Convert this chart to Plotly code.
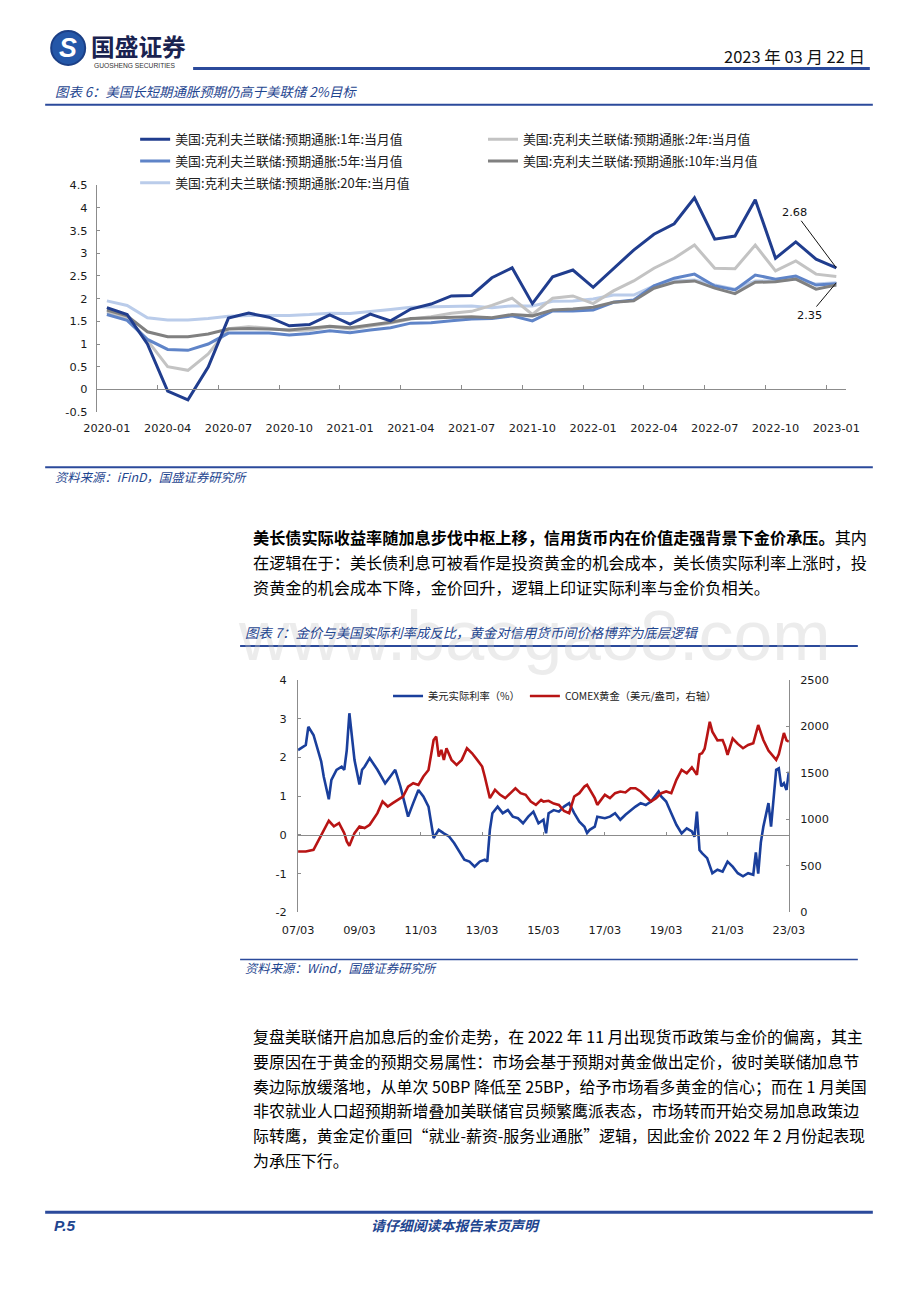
import plotly.graph_objects as go

W, H = 920, 1302          # page size of the reference
BODY = 8                  # default body margin of the generated page
FW, FH = W - 2 * BODY, H - 2 * BODY   # figure size so the page fits the window exactly
# measured photo scaling of the page about its centre (compensated below)
SX, SY = 0.965, 0.9906
FS = 1.03                 # font compensation for that scaling

# ---------------- Chart 6 data (monthly, Cleveland Fed expected inflation) ----------------
months = ["2020-01", "2020-02", "2020-03", "2020-04", "2020-05", "2020-06", "2020-07", "2020-08",
          "2020-09", "2020-10", "2020-11", "2020-12", "2021-01", "2021-02", "2021-03", "2021-04",
          "2021-05", "2021-06", "2021-07", "2021-08", "2021-09", "2021-10", "2021-11", "2021-12",
          "2022-01", "2022-02", "2022-03", "2022-04", "2022-05", "2022-06", "2022-07", "2022-08",
          "2022-09", "2022-10", "2022-11", "2022-12", "2023-01"]
inf_1y = [1.80, 1.65, 1.00, -0.04, -0.23, 0.49, 1.57, 1.68, 1.59, 1.40, 1.43, 1.64, 1.44, 1.66, 1.51,
          1.77, 1.88, 2.06, 2.07, 2.46, 2.68, 1.89, 2.48, 2.63, 2.25, 2.65, 3.07, 3.42, 3.65, 4.22,
          3.31, 3.38, 4.18, 2.89, 3.25, 2.87, 2.68]
inf_2y = [1.70, 1.58, 1.08, 0.50, 0.42, 0.78, 1.34, 1.38, 1.35, 1.29, 1.31, 1.38, 1.33, 1.39, 1.46,
          1.55, 1.60, 1.68, 1.72, 1.85, 2.01, 1.65, 2.01, 2.06, 1.89, 2.17, 2.39, 2.67, 2.89, 3.18,
          2.67, 2.66, 3.18, 2.61, 2.83, 2.54, 2.49]
inf_5y = [1.65, 1.52, 1.10, 0.88, 0.86, 1.00, 1.24, 1.24, 1.24, 1.20, 1.23, 1.29, 1.25, 1.31, 1.36,
          1.46, 1.47, 1.51, 1.55, 1.56, 1.62, 1.51, 1.73, 1.73, 1.75, 1.92, 1.97, 2.28, 2.45, 2.54,
          2.28, 2.19, 2.52, 2.43, 2.50, 2.30, 2.33]
inf_10y = [1.75, 1.62, 1.27, 1.16, 1.16, 1.22, 1.33, 1.34, 1.33, 1.31, 1.35, 1.39, 1.36, 1.42, 1.48,
           1.56, 1.57, 1.58, 1.60, 1.58, 1.65, 1.62, 1.75, 1.77, 1.81, 1.92, 1.95, 2.23, 2.36, 2.39,
           2.23, 2.11, 2.36, 2.37, 2.43, 2.21, 2.30]
inf_20y = [1.95, 1.85, 1.58, 1.53, 1.53, 1.56, 1.61, 1.63, 1.63, 1.63, 1.65, 1.68, 1.67, 1.71, 1.76,
           1.81, 1.82, 1.82, 1.84, 1.80, 1.84, 1.84, 1.94, 1.95, 1.99, 2.08, 2.08, 2.28, 2.39, 2.41,
           2.30, 2.21, 2.39, 2.39, 2.43, 2.32, 2.35]
series_names = ["美国:克利夫兰联储:预期通胀:1年:当月值", "美国:克利夫兰联储:预期通胀:2年:当月值",
                "美国:克利夫兰联储:预期通胀:5年:当月值", "美国:克利夫兰联储:预期通胀:10年:当月值",
                "美国:克利夫兰联储:预期通胀:20年:当月值"]
y1_ticks = [-0.5, 0, 0.5, 1, 1.5, 2, 2.5, 3, 3.5, 4, 4.5]
y1_labels = ["-0.5", "0", "0.5", "1", "1.5", "2", "2.5", "3", "3.5", "4", "4.5"]

# ---------------- Chart 7 data ----------------
rr_dates = ["2007-03", "2007-06", "2007-07", "2007-09", "2007-12", "2008-01", "2008-03", "2008-04",
            "2008-06", "2008-08", "2008-09", "2008-10", "2008-11", "2008-12", "2009-01", "2009-03",
            "2009-04", "2009-05", "2009-07", "2009-10", "2010-01", "2010-03", "2010-05", "2010-07",
            "2010-10", "2010-12", "2011-02", "2011-04", "2011-06", "2011-08", "2011-10", "2011-12",
            "2012-02", "2012-04", "2012-06", "2012-08", "2012-10", "2012-12", "2013-02", "2013-04",
            "2013-05", "2013-06", "2013-07", "2013-09", "2013-11", "2014-01", "2014-03", "2014-05",
            "2014-07", "2014-09", "2014-11", "2015-01", "2015-03", "2015-04", "2015-05", "2015-07",
            "2015-09", "2015-11", "2016-01", "2016-03", "2016-05", "2016-07", "2016-08", "2016-09",
            "2016-11", "2016-12", "2017-03", "2017-05", "2017-07", "2017-09", "2017-11", "2018-01",
            "2018-03", "2018-05", "2018-07", "2018-09", "2018-11", "2018-12", "2019-01", "2019-03",
            "2019-05", "2019-07", "2019-09", "2019-11", "2020-01", "2020-02", "2020-03", "2020-04",
            "2020-05", "2020-07", "2020-09", "2020-11", "2021-01", "2021-03", "2021-05", "2021-07",
            "2021-09", "2021-11", "2022-01", "2022-02", "2022-03", "2022-04", "2022-05", "2022-06",
            "2022-07", "2022-08", "2022-09", "2022-10", "2022-11", "2022-12", "2023-01", "2023-02",
            "2023-03"]
rr_vals = [2.19, 2.32, 2.79, 2.58, 1.90, 1.50, 0.92, 1.42, 1.68, 1.76, 1.68, 2.19, 3.14, 2.54, 1.93,
           1.30, 1.68, 1.76, 1.98, 1.68, 1.33, 1.50, 1.68, 1.25, 0.47, 0.82, 1.16, 0.99, 0.73, -0.08,
           0.13, 0.04, -0.04, -0.21, -0.43, -0.64, -0.69, -0.82, -0.69, -0.64, -0.69, 0.13, 0.56,
           0.73, 0.56, 0.64, 0.47, 0.43, 0.30, 0.47, 0.60, 0.30, 0.39, 0.04, 0.56, 0.64, 0.60, 0.73,
           0.82, 0.56, 0.34, 0.21, 0.05, 0.13, 0.21, 0.47, 0.43, 0.47, 0.56, 0.39, 0.52, 0.64, 0.73,
           0.82, 0.77, 0.86, 1.03, 1.12, 0.99, 0.86, 0.56, 0.26, 0.04, 0.17, 0.09, -0.05, 0.60, -0.39,
           -0.47, -0.60, -0.99, -0.90, -0.95, -0.69, -0.82, -0.99, -1.07, -0.99, -1.03, -0.45, -1.00,
           -0.20, 0.21, 0.56, 0.82, 0.21, 0.99, 1.68, 1.72, 1.25, 1.33, 1.16, 1.63]
gold_dates = ["2007-03", "2007-06", "2007-09", "2007-11", "2008-01", "2008-03", "2008-05", "2008-07",
              "2008-09", "2008-10", "2008-11", "2009-01", "2009-03", "2009-05", "2009-07", "2009-10",
              "2009-12", "2010-02", "2010-04", "2010-06", "2010-08", "2010-10", "2010-12", "2011-02",
              "2011-04", "2011-06", "2011-08", "2011-09", "2011-10", "2011-11", "2011-12", "2012-01",
              "2012-03", "2012-05", "2012-07", "2012-09", "2012-11", "2013-01", "2013-03", "2013-04",
              "2013-05", "2013-06", "2013-08", "2013-10", "2013-12", "2014-02", "2014-04", "2014-06",
              "2014-08", "2014-10", "2014-12", "2015-02", "2015-03", "2015-05", "2015-07", "2015-09",
              "2015-11", "2016-01", "2016-03", "2016-05", "2016-07", "2016-08", "2016-09", "2016-11",
              "2016-12", "2017-01", "2017-03", "2017-05", "2017-07", "2017-09", "2017-11", "2018-01",
              "2018-03", "2018-05", "2018-07", "2018-09", "2018-11", "2019-01", "2019-03", "2019-05",
              "2019-07", "2019-09", "2019-11", "2020-01", "2020-03", "2020-04", "2020-05", "2020-06",
              "2020-07", "2020-08", "2020-09", "2020-11", "2021-01", "2021-02", "2021-03", "2021-05",
              "2021-07", "2021-09", "2021-11", "2022-01", "2022-03", "2022-05", "2022-07", "2022-09",
              "2022-10", "2022-11", "2022-12", "2023-01", "2023-02", "2023-03"]
gold_vals = [655, 655, 673, 780, 888, 985, 924, 959, 852, 763, 715, 852, 924, 906, 942, 1067, 1192,
             1138, 1174, 1210, 1246, 1353, 1389, 1371, 1461, 1532, 1854, 1890, 1675, 1747, 1640, 1765,
             1640, 1586, 1640, 1765, 1711, 1640, 1568, 1461, 1353, 1228, 1317, 1264, 1228, 1282, 1335,
             1282, 1264, 1192, 1156, 1210, 1192, 1200, 1170, 1156, 1090, 1067, 1246, 1282, 1353, 1371,
             1317, 1228, 1156, 1192, 1264, 1228, 1282, 1300, 1290, 1335, 1335, 1300, 1246, 1192, 1228,
             1282, 1300, 1282, 1425, 1532, 1496, 1560, 1480, 1700, 1711, 1760, 1900, 2050, 1944, 1850,
             1854, 1783, 1693, 1870, 1812, 1765, 1800, 1819, 2015, 1854, 1740, 1670, 1640, 1700, 1801,
             1930, 1850, 1836]
rr_name = "美元实际利率（%）"
gold_name = "COMEX黄金（美元/盎司，右轴）"
y2_ticks = [-2, -1, 0, 1, 2, 3, 4]
y2_labels = ["-2", "-1", "0", "1", "2", "3", "4"]
y3_ticks = [0, 500, 1000, 1500, 2000, 2500]

# ---------------- Page text ----------------
para1 = ["<b>美长债实际收益率随加息步伐中枢上移，信用货币内在价值走强背景下金价承压。</b>其内",
         "在逻辑在于：美长债利息可被看作是投资黄金的机会成本，美长债实际利率上涨时，投",
         "资黄金的机会成本下降，金价回升，逻辑上印证实际利率与金价负相关。"]
para2 = ["复盘美联储开启加息后的金价走势，在 2022 年 11 月出现货币政策与金价的偏离，其主",
         "要原因在于黄金的预期交易属性：市场会基于预期对黄金做出定价，彼时美联储加息节",
         "奏边际放缓落地，从单次 50BP 降低至 25BP，给予市场看多黄金的信心；而在 1 月美国",
         "非农就业人口超预期新增叠加美联储官员频繁鹰派表态，市场转而开始交易加息政策边",
         "际转鹰，黄金定价重回“就业-薪资-服务业通胀”逻辑，因此金价 2022 年 2 月份起表现",
         "为承压下行。"]

# ---------------- helpers ----------------
CJK = "Noto Sans CJK SC"
NUM = "DejaVu Sans"
BLUE_T = "#1F4690"
RULE = "#2B4A9B"
AXC = "#8C8C8C"


def px(x):
    """target page pixel x -> paper fraction of the figure"""
    xa = W / 2 + (x - W / 2) / SX
    return (xa - BODY) / FW


def py(y):
    """target page pixel y (from top) -> paper fraction of the figure"""
    ya = H / 2 + (y - H / 2) / SY
    return 1 - (ya - BODY) / FH


def f(s):
    return round(s * FS, 2)


idx = list(range(len(months)))

x1_dom = [px(96.6), px(846.6)]
y1_dom = [py(411.7), py(184.5)]
x2_dom = [px(298), px(789)]
y2_dom = [py(912.7), py(680)]

y1_range = [-0.5, 4.5]
y2_range = [-2, 4]
zero1 = y1_dom[0] + (0 - y1_range[0]) / (y1_range[1] - y1_range[0]) * (y1_dom[1] - y1_dom[0])
zero2 = y2_dom[0] + (0 - y2_range[0]) / (y2_range[1] - y2_range[0]) * (y2_dom[1] - y2_dom[0])

fig = go.Figure()

styles = {
    0: dict(color="#203D8E", legend="legend", rank=1),
    1: dict(color="#C3C3C3", legend="legend2", rank=1),
    2: dict(color="#5F84C8", legend="legend", rank=2),
    3: dict(color="#808080", legend="legend2", rank=2),
    4: dict(color="#BACCEA", legend="legend", rank=3),
}
data_list = [inf_1y, inf_2y, inf_5y, inf_10y, inf_20y]
for k in [4, 1, 2, 3, 0]:
    s = styles[k]
    fig.add_trace(go.Scatter(
        x=idx, y=data_list[k], mode="lines", name=series_names[k],
        line=dict(color=s["color"], width=3), legend=s["legend"], legendrank=s["rank"],
        legendgroup="g%d" % k, xaxis="x", yaxis="y", hoverinfo="skip"))

# empty helper traces so the zero-line axes are drawn
fig.add_trace(go.Scatter(x=[], y=[], xaxis="x3", yaxis="y", showlegend=False, hoverinfo="skip"))

fig.add_trace(go.Scatter(x=rr_dates, y=rr_vals, mode="lines", name=rr_name,
                         line=dict(color="#1A3F9C", width=2.6), xaxis="x2", yaxis="y2",
                         legend="legend3", hoverinfo="skip"))
fig.add_trace(go.Scatter(x=gold_dates, y=gold_vals, mode="lines", name=gold_name,
                         line=dict(color="#B81414", width=2.6), xaxis="x2", yaxis="y3",
                         legend="legend3", hoverinfo="skip"))
fig.add_trace(go.Scatter(x=[], y=[], xaxis="x4", yaxis="y2", showlegend=False, hoverinfo="skip"))

tickfont = dict(family=NUM, size=f(11), color="#1a1a1a")

layout = dict(
    width=FW, height=FH, margin=dict(l=0, r=0, t=0, b=0), autosize=False,
    paper_bgcolor="white", plot_bgcolor="rgba(0,0,0,0)",
    showlegend=True,
    xaxis=dict(domain=x1_dom, anchor="y", range=[-0.5, len(months) - 0.5],
               tickmode="array", tickvals=idx[::3], ticktext=months[::3],
               ticks="", showline=False, showgrid=False, zeroline=False,
               tickfont=tickfont, ticklabelstandoff=8),
    yaxis=dict(domain=y1_dom, anchor="x", range=y1_range, tickmode="array",
               tickvals=y1_ticks, ticktext=y1_labels, showline=True, linecolor=AXC,
               linewidth=1, ticks="inside", ticklen=3, tickcolor=AXC, showgrid=False,
               zeroline=False, tickfont=tickfont, ticklabelstandoff=6),
    xaxis3=dict(overlaying="x", anchor="free", position=zero1, range=[-0.5, len(months) - 0.5],
                tickmode="array", tickvals=[v - 0.5 for v in idx[3::3]],
                showticklabels=False, ticks="inside", ticklen=4, tickcolor=AXC,
                showline=True, linecolor=AXC, linewidth=1, showgrid=False, zeroline=False),
    xaxis2=dict(domain=x2_dom, anchor="y2", type="date", range=["2007-03-01", "2023-03-01"],
                tick0="2007-03-01", dtick="M24", tickformat="%y/%m", ticks="",
                showline=False, showgrid=False, zeroline=False, tickfont=tickfont,
                ticklabelstandoff=9),
    xaxis4=dict(overlaying="x2", anchor="free", position=zero2, type="date",
                range=["2007-03-01", "2023-03-01"], tick0="2007-03-01", dtick="M24",
                showticklabels=False, ticks="inside", ticklen=3, tickcolor=AXC,
                showline=True, linecolor=AXC, linewidth=1, showgrid=False, zeroline=False),
    yaxis2=dict(domain=y2_dom, anchor="x2", range=y2_range, tickmode="array",
                tickvals=y2_ticks, ticktext=y2_labels, showline=True, linecolor=AXC,
                ticks="inside", ticklen=3, tickcolor=AXC, showgrid=False, zeroline=False,
                tickfont=tickfont, ticklabelstandoff=8),
    yaxis3=dict(overlaying="y2", anchor="x2", side="right", range=[0, 2500], tickmode="array",
                tickvals=y3_ticks, showline=True, linecolor=AXC, ticks="inside", ticklen=3,
                tickcolor=AXC, showgrid=False, zeroline=False, tickfont=tickfont,
                ticklabelstandoff=8),
    legend=dict(x=px(135), y=py(123.5), xanchor="left", yanchor="top", orientation="v",
                bgcolor="rgba(0,0,0,0)", font=dict(family=CJK, size=f(12.5), color="#222"),
                tracegroupgap=2, itemwidth=30),
    legend2=dict(x=px(483), y=py(123.5), xanchor="left", yanchor="top", orientation="v",
                 bgcolor="rgba(0,0,0,0)", font=dict(family=CJK, size=f(12.5), color="#222"),
                 tracegroupgap=2, itemwidth=30),
    legend3=dict(x=px(388), y=py(681.5), xanchor="left", yanchor="top", orientation="h",
                 bgcolor="rgba(0,0,0,0)", font=dict(family=CJK, size=f(10), color="#222"),
                 itemwidth=30),
)
fig.update_layout(**layout)


def line_shape(x0, x1, y, width, color=RULE):
    return dict(type="line", xref="paper", yref="paper", x0=px(x0), x1=px(x1),
                y0=py(y), y1=py(y), line=dict(color=color, width=width))


shapes = [
    line_shape(193, 870, 67.5, 3),
    line_shape(45, 873, 104, 2),
    line_shape(45, 873, 467, 2),
    line_shape(240, 858, 646, 2),
    line_shape(240, 858, 960, 1.5),
    line_shape(45, 873, 1213, 3),
    dict(type="circle", xref="paper", yref="paper", x0=px(51), x1=px(85), y0=py(64), y1=py(30),
         fillcolor="#2457A8", line=dict(color="#1B3F86", width=2)),
]
fig.update_layout(shapes=shapes)


def txt(x, y, text, size, color="#000", family=CJK, anchor="left", **kw):
    return dict(xref="paper", yref="paper", x=px(x), y=py(y), text=text, showarrow=False,
                xanchor=anchor, yanchor="middle",
                font=dict(family=family, size=f(size), color=color), **kw)


ann = [
    txt(535, 636, "www.baogao8.com", 68, color="rgba(200,200,200,0.35)", family="Liberation Sans",
        anchor="center"),
    txt(68, 47, "<b><i>S</i></b>", 26, color="white", family="Liberation Sans", anchor="center"),
    txt(89, 45, "<b>国盛证券</b>", 23, color="#1A2350"),
    txt(92, 65, "GUOSHENG SECURITIES", 6.5, color="#333", family="Liberation Sans"),
    txt(867, 55, "2023 年 03 月 22 日", 16, color="#111", anchor="right"),
    txt(53, 90, "<i>图表 6：美国长短期通胀预期仍高于美联储 2%目标</i>", 13, color=BLUE_T),
    txt(53, 477, "<i>资料来源：iFinD，国盛证券研究所</i>", 12, color=BLUE_T),
    txt(243, 632, "<i>图表 7：金价与美国实际利率成反比，黄金对信用货币间价格博弈为底层逻辑</i>", 13,
        color=BLUE_T),
    txt(243, 968, "<i>资料来源：Wind，国盛证券研究所</i>", 12, color=BLUE_T),
    txt(52, 1226, "<b><i>P.5</i></b>", 15, color=BLUE_T, family="Liberation Sans"),
    txt(455, 1226, "<b><i>请仔细阅读本报告末页声明</i></b>", 13.5, color=BLUE_T, anchor="center"),
]
for i, line in enumerate(para1):
    ann.append(txt(251, 537 + i * 25, line, 15.7))
for i, line in enumerate(para2):
    ann.append(txt(251, 1037 + i * 24.7, line, 15.5))

# value call-outs on chart 6
ann.append(dict(xref="x", yref="y", x=idx[-1], y=inf_1y[-1], text="%.2f" % inf_1y[-1],
                showarrow=True, arrowhead=0, arrowwidth=1, arrowcolor="#111",
                ax=-40 / SX, ay=-55 / SY, standoff=0,
                font=dict(family=NUM, size=f(11), color="#111")))
ann.append(dict(xref="x", yref="y", x=idx[-1], y=inf_20y[-1], text="%.2f" % inf_20y[-1],
                showarrow=True, arrowhead=0, arrowwidth=1, arrowcolor="#111",
                ax=-26 / SX, ay=32 / SY, standoff=0,
                font=dict(family=NUM, size=f(11), color="#111")))
fig.update_layout(annotations=ann)

fig.write_html("out.html", config={"displayModeBar": False})
